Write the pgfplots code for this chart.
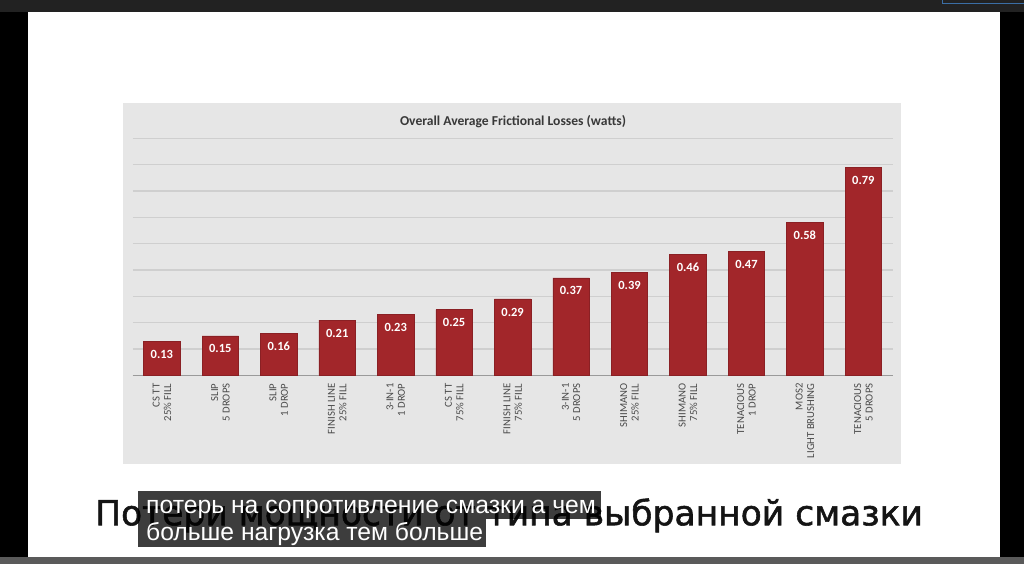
\documentclass[border=0pt]{standalone}
\usepackage{fontspec}
\usepackage{pgfplots}
\pgfplotsset{compat=1.18}
\setmainfont{Carlito}
\newfontfamily\titlefont[FakeBold=1.6]{DejaVu Sans}
\newfontfamily\subfont{Liberation Sans}
\definecolor{barred}{HTML}{A2262A}
\definecolor{chartbg}{HTML}{E6E6E6}
\definecolor{gridc}{HTML}{CFCFCF}
\definecolor{basec}{HTML}{9A9A9A}
\definecolor{labelc}{HTML}{4A4A4A}
\definecolor{topbar}{HTML}{222222}
\definecolor{bottomband}{HTML}{5A5A5A}
\definecolor{btnblue}{HTML}{3B6EA5}
\begin{document}
\begin{tikzpicture}[x=1pt,y=1pt]
\fill[black] (0,0) rectangle (1024,564);
\fill[topbar] (0,552) rectangle (1024,564);
\draw[btnblue, line width=1pt] (943,564) -- (943,561) -- (1024,561);
\fill[white] (28,7) rectangle (1000,552);
\fill[bottomband] (0,0) rectangle (1024,7);
\fill[chartbg] (123,100) rectangle (901,461);
\begin{axis}[
  at={(132.7pt,189pt)}, anchor=south west,
  width=760.3pt, height=237pt, scale only axis,
  xmin=-0.5, xmax=12.5, ymin=0, ymax=0.9,
  axis line style={draw=none},
  ybar, bar width=36.5pt,
  ytick={0.1,0.2,0.3,0.4,0.5,0.6,0.7,0.8,0.9}, yticklabels={},
  ymajorgrids, major grid style={gridc, line width=1.2pt},
  extra y ticks={0}, extra y tick labels={},
  extra y tick style={major grid style={basec, line width=1.4pt}},
  major tick length=0pt,
  xtick=data,
  xticklabels={{CS TT\\25\% FILL},{SLIP\\5 DROPS},{SLIP\\1 DROP},{FINISH LINE\\25\% FILL},{3-IN-1\\1 DROP},{CS TT\\75\% FILL},{FINISH LINE\\75\% FILL},{3-IN-1\\5 DROPS},{SHIMANO\\25\% FILL},{SHIMANO\\75\% FILL},{TENACIOUS\\1 DROP},{MOS2\\LIGHT BRUSHING},{TENACIOUS\\5 DROPS}},
  xticklabel style={rotate=90, anchor=east, align=right, inner sep=0pt, font=\fontsize{10.7}{11.5}\selectfont, text=labelc},
  xticklabel shift=8pt,
  nodes near coords,
  every node near coord/.append style={anchor=center, yshift=-13pt, text=white, font=\bfseries\fontsize{12.5}{14}\selectfont},
  /pgf/number format/assume math mode=true,
  /pgf/number format/fixed, /pgf/number format/precision=2, /pgf/number format/fixed zerofill,
  clip=false,
]
\addplot[fill=barred, draw=barred!85!black, line width=0.6pt] coordinates {
(0,0.13) (1,0.15) (2,0.16) (3,0.21) (4,0.23) (5,0.25) (6,0.29)
(7,0.37) (8,0.39) (9,0.46) (10,0.47) (11,0.58) (12,0.79)};
\end{axis}
\node[anchor=center, text=black!78, font=\bfseries\fontsize{13.6}{15}\selectfont] at (513.3,443.3) {Overall Average Frictional Losses (watts)};
\node[anchor=base west, inner sep=0pt, text=black!92] at (95,39) {\resizebox{828pt}{!}{\titlefont Потери мощности от типа выбранной смазки}};
\fill[black, fill opacity=0.76] (138.3,45) rectangle (601,73.3);
\fill[black, fill opacity=0.76] (138.3,17.3) rectangle (486,45);
\node[anchor=base west, inner sep=0pt, text=white] at (146,50.7) {\resizebox{450pt}{!}{\subfont потерь на сопротивление смазки а чем}};
\node[anchor=base west, inner sep=0pt, text=white] at (146,24) {\resizebox{337pt}{!}{\subfont больше нагрузка тем больше}};
\end{tikzpicture}
\end{document}
